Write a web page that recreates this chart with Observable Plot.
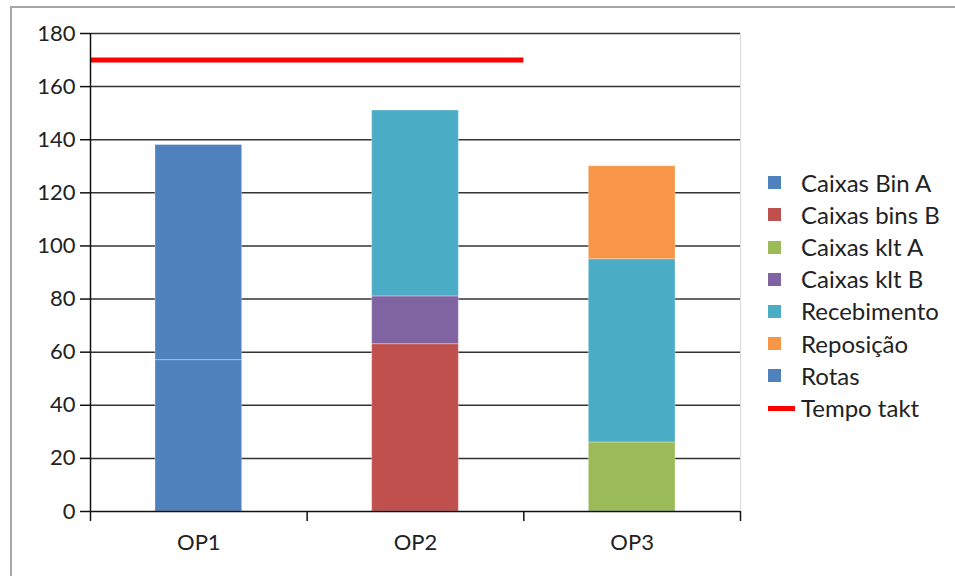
<!DOCTYPE html>
<html><head><meta charset="utf-8">
<script src="https://cdn.jsdelivr.net/npm/d3@7"></script>
<script src="https://cdn.jsdelivr.net/npm/@observablehq/plot@0.6"></script>
<style>
body{margin:0;background:#fff;font-family:Lato,"Open Sans",sans-serif}
#wrap{position:relative;width:955px;height:576px;overflow:hidden;background:#fff}
#chart{position:absolute;left:0;top:0}
#frame{position:absolute;left:10px;top:6px;right:-5px;bottom:-5px;border-left:2px solid #a6a6a6;border-top:2px solid #a6a6a6;pointer-events:none}
#legend{position:absolute;left:768px;top:166.6px;font-size:24px;color:#222;line-height:1}
.row{height:32.2px;display:flex;align-items:center;white-space:nowrap}
.sw{width:13px;height:13px;margin-right:20px;flex:none}
.ln{width:27px;height:5px;margin-right:6px;flex:none}
</style></head>
<body><div id="wrap"><div id="chart"></div><div id="legend"></div><div id="frame"></div></div>
<script>
const categories = ["OP1", "OP2", "OP3"];
const seriesNames = ["Caixas Bin A", "Caixas bins B", "Caixas klt A", "Caixas klt B", "Recebimento", "Reposição", "Rotas"];
const seriesColors = ["#4f81bd", "#c0504d", "#9bbb59", "#8064a2", "#4bacc6", "#f79646", "#4f81bd"];
const caixasBinA   = [57, 0, 0];
const caixasBinsB  = [0, 63, 0];
const caixasKltA   = [0, 0, 26];
const caixasKltB   = [0, 18, 0];
const recebimento  = [0, 70, 69];
const reposicao    = [0, 0, 35];
const rotas        = [81, 0, 0];
const taktName = "Tempo takt";
const taktValue = 170;
const taktFrom = "OP1", taktTo = "OP2";
const taktColor = "#ff0000";
const yTicks = [0, 20, 40, 60, 80, 100, 120, 140, 160, 180];

const seriesValues = [caixasBinA, caixasBinsB, caixasKltA, caixasKltB, recebimento, reposicao, rotas];
const stacked = [];
categories.forEach((c, i) => {
  let acc = 0;
  seriesNames.forEach((s, k) => {
    const v = seriesValues[k][i];
    if (v > 0) {
      stacked.push({cat: c, i, series: s, y1: acc, y2: acc + v});
      acc += v;
    }
  });
});
const catIdx = categories.map((c, i) => i);
const bounds = [...catIdx, categories.length];

const chart = Plot.plot({
  width: 955, height: 576,
  marginLeft: 90, marginRight: 215, marginTop: 33, marginBottom: 65,
  x: {type: "linear", domain: [0, categories.length]},
  y: {domain: [0, 180]},
  color: {domain: seriesNames, range: seriesColors},
  style: {fontFamily: "Lato, 'Open Sans', sans-serif", fontSize: "22px", color: "#222", background: "transparent"},
  marks: [
    Plot.ruleY(yTicks.filter(t => t > 0), {stroke: "#333", strokeWidth: 1.5}),
    Plot.ruleX([categories.length], {stroke: "#d9d9d9", strokeWidth: 1}),
    Plot.rectY(stacked, {x1: d => d.i, x2: d => d.i + 1, y1: "y1", y2: "y2", fill: "series",
      insetLeft: 65, insetRight: 65, stroke: "#fff", strokeOpacity: 0.3, strokeWidth: 1}),
    Plot.ruleY([taktValue], {x1: categories.indexOf(taktFrom), x2: categories.indexOf(taktTo) + 1, stroke: taktColor, strokeWidth: 5}),
    Plot.ruleX([0], {stroke: "#111", strokeWidth: 1.5}),
    Plot.ruleY([0], {stroke: "#111", strokeWidth: 1.5}),
    Plot.axisY({ticks: yTicks, tickSize: 10, tickPadding: 5, stroke: "#111", strokeWidth: 1.5, tickFormat: d => String(d)}),
    Plot.axisX({ticks: bounds, tickSize: 10, tickFormat: () => "", stroke: "#111", strokeWidth: 1.5}),
    Plot.axisX({ticks: catIdx.map(i => i + 0.5), tickSize: 0, tickPadding: 23, tickFormat: v => categories[Math.floor(v)]})
  ]
});
document.getElementById("chart").appendChild(chart);

const legend = document.getElementById("legend");
seriesNames.forEach((s, k) => {
  const r = document.createElement("div"); r.className = "row";
  r.innerHTML = `<span class="sw" style="background:${seriesColors[k]}"></span><span>${s}</span>`;
  legend.appendChild(r);
});
const r = document.createElement("div"); r.className = "row";
r.innerHTML = `<span class="ln" style="background:${taktColor}"></span><span>${taktName}</span>`;
legend.appendChild(r);
</script>
</body></html>
